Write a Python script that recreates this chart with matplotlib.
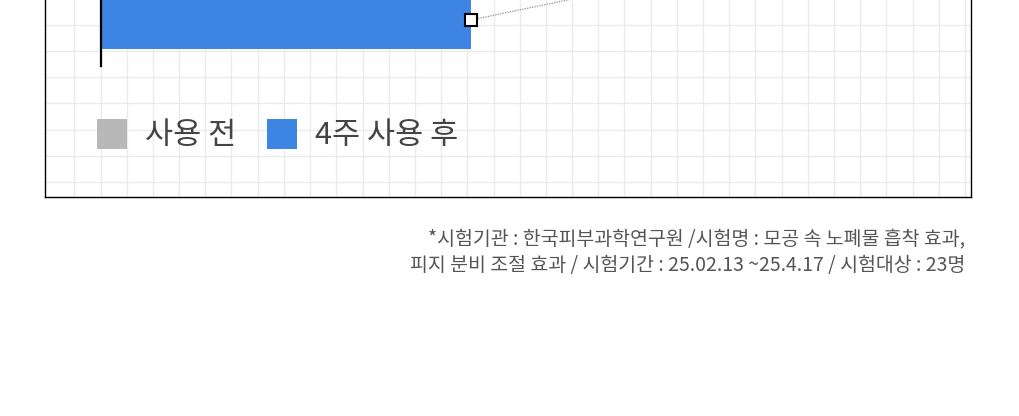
import numpy as np
import matplotlib.pyplot as plt
from matplotlib.patches import Patch

plt.rcParams['font.family'] = ['Noto Sans CJK KR', 'DejaVu Sans']

# data (bottom -> top)
labels = ['4주 사용 후', '사용 전']
values = [42.5, 87.0]
colors = ['#3E85E3', '#B8B8B8']
legend_order = [1, 0]
note = ['*시험기관 : 한국피부과학연구원 /시험명 : 모공 속 노폐물 흡착 효과,',
        '피지 분비 조절 효과 / 시험기간 : 25.02.13 ~25.4.17 / 시험대상 : 23명']

W, H = 1020, 416
fig = plt.figure(figsize=(W / 100, H / 100), dpi=100)


def box(l, t, r, b):
    # pixel box -> figure fraction
    return [l / W, 1 - b / H, (r - l) / W, (b - t) / H]


# framed grid panel behind the chart
bg = fig.add_axes(box(45, -300, 971, 197))
bg.set_xlim(45, 971)
bg.set_ylim(197, -300)
bg.set_xticks(np.arange(74.3, 971, 26.2))
bg.set_yticks(np.arange(182, -300, -26.2))
bg.grid(color='#ebebeb', lw=1)
bg.tick_params(length=0, labelbottom=False, labelleft=False)
for s in bg.spines.values():
    s.set_color('black')
    s.set_linewidth(1)

# bar chart
ax = fig.add_axes(box(101, -100, 971, 66))
ax.patch.set_visible(False)
y = np.arange(len(labels))
ax.barh(y, values, height=0.725, color=colors, zorder=2)
ax.plot(values, y, ls=(0, (1, 1)), color='#8f8f8f', lw=0.9, zorder=3)
ax.plot(values[0], y[0], marker='s', ms=8.5, mfc='white', mec='black',
        mew=1.5, zorder=4)
ax.set_xlim(0, 100)
ax.set_ylim(-0.575, 1.5)
ax.set_xticks([])
ax.set_yticks([])
for k in ['top', 'right', 'bottom']:
    ax.spines[k].set_visible(False)
ax.spines['left'].set_color('black')
ax.spines['left'].set_linewidth(1.6)

handles = [Patch(facecolor=colors[i], label=labels[i]) for i in legend_order]
fig.legend(handles=handles, ncol=2, loc='upper left',
           bbox_to_anchor=(71 / W, 1 - 93 / H), frameon=False,
           prop={'size': 22, 'weight': 'light'},
           handlelength=0.98, handleheight=1.12, borderpad=0.35,
           handletextpad=0.6, columnspacing=1.0, labelcolor='#444444')

for i, line in enumerate(note):
    fig.text(965 / W, 1 - (240 + 26 * i) / H, line, ha='right', va='center',
             fontsize=14, color='#555555')

fig.savefig('out.png', dpi=100)
plt.close()
